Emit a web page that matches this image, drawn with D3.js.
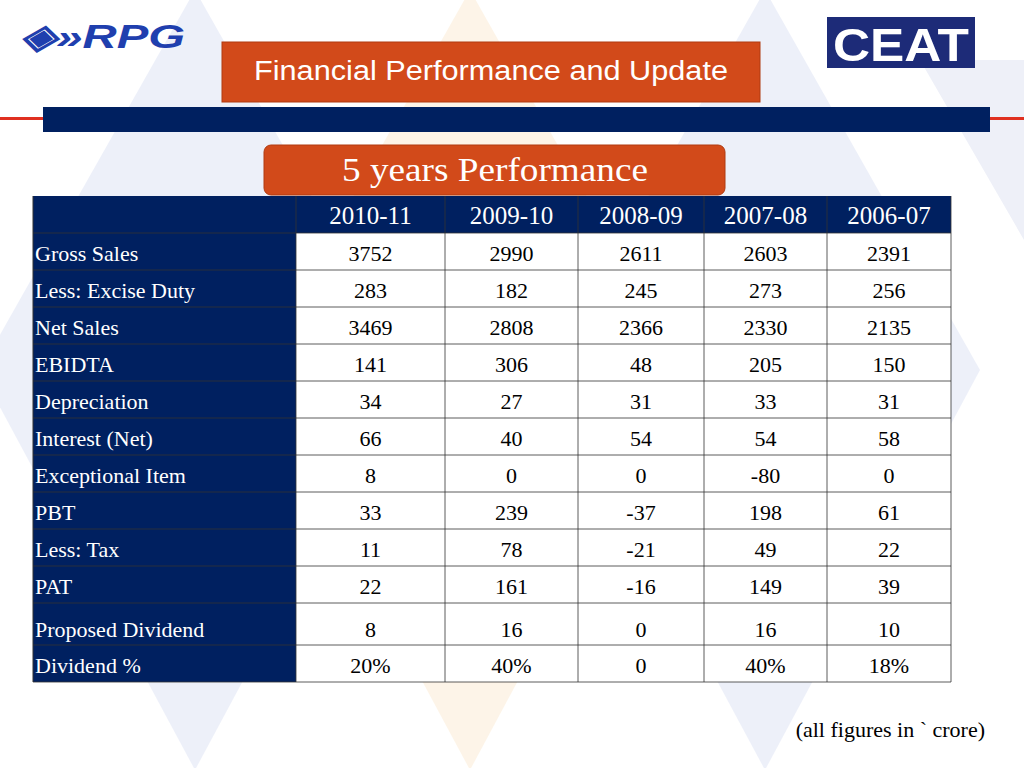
<!DOCTYPE html>
<html><head><meta charset="utf-8">
<script src="https://cdn.jsdelivr.net/npm/d3@7"></script>
<style>body{margin:0;background:#fff}svg{display:block}</style>
</head><body>
<script>
const years = ["2010-11","2009-10","2008-09","2007-08","2006-07"];
const rowLabels = ["Gross Sales","Less: Excise Duty","Net Sales","EBIDTA","Depreciation","Interest (Net)","Exceptional Item","PBT","Less: Tax","PAT","Proposed Dividend","Dividend %"];
const grossSales = ["3752","2990","2611","2603","2391"];
const exciseDuty = ["283","182","245","273","256"];
const netSales = ["3469","2808","2366","2330","2135"];
const ebidta = ["141","306","48","205","150"];
const depreciation = ["34","27","31","33","31"];
const interest = ["66","40","54","54","58"];
const exceptional = ["8","0","0","-80","0"];
const pbt = ["33","239","-37","198","61"];
const tax = ["11","78","-21","49","22"];
const pat = ["22","161","-16","149","39"];
const dividend = ["8","16","0","16","10"];
const dividendPct = ["20%","40%","0","40%","18%"];
const rows = [grossSales,exciseDuty,netSales,ebidta,depreciation,interest,exceptional,pbt,tax,pat,dividend,dividendPct];

const W=1024,H=768;
const svg=d3.select("body").append("svg").attr("width",W).attr("height",H);
const navy="#002060", orange="#d24a1a";

const bg=[{cx:195,c:"#e9ecf7"},{cx:470,c:"#fcf1e2"},{cx:765,c:"#e9ecf7"}];
bg.forEach(d=>{
  svg.append("polygon").attr("points",`${d.cx},-10 ${d.cx+215},370 ${d.cx},770 ${d.cx-215},370`).attr("fill",d.c).attr("opacity",0.8);
});
svg.append("polygon").attr("points",`1024,240 920,60 1024,60`).attr("fill","#eef0f8");

svg.append("rect").attr("x",0).attr("y",117).attr("width",W).attr("height",3).attr("fill","#e03020");
svg.append("rect").attr("x",43).attr("y",107).attr("width",947).attr("height",25).attr("fill",navy);

svg.append("text").attr("x",20).attr("y",48).attr("font-family","Liberation Sans").attr("font-weight","bold").attr("font-style","italic").attr("font-size",34).attr("fill","#1f3fae").attr("textLength",165).attr("lengthAdjust","spacingAndGlyphs").text("◈»RPG");
svg.append("rect").attr("x",827).attr("y",17).attr("width",148).attr("height",51).attr("fill","#1d2b78");
svg.append("text").attr("x",901).attr("y",61).attr("text-anchor","middle").attr("font-family","Liberation Sans").attr("font-weight","bold").attr("font-size",46).attr("fill","#fff").attr("textLength",136).attr("lengthAdjust","spacingAndGlyphs").text("CEAT");

svg.append("rect").attr("x",222).attr("y",42).attr("width",538).attr("height",60).attr("fill",orange).attr("stroke","#b03a10");
svg.append("text").attr("x",491).attr("y",80).attr("text-anchor","middle").attr("font-family","Liberation Sans Narrow, Liberation Sans").attr("font-size",27).attr("fill","#fff").attr("textLength",474).attr("lengthAdjust","spacingAndGlyphs").text("Financial Performance and Update");

svg.append("rect").attr("x",264).attr("y",145).attr("width",461).attr("height",50).attr("rx",7).attr("fill",orange).attr("stroke","#b03a10");
svg.append("text").attr("x",495).attr("y",181).attr("text-anchor","middle").attr("font-family","Liberation Serif").attr("font-size",33).attr("fill","#fff").attr("textLength",306).attr("lengthAdjust","spacingAndGlyphs").text("5 years Performance");

const colEdges=[296,445,578,704,827,951];
const x0=33;
const heights=[37,37,37,37,37,37,37,37,37,37,37,42,37];
let ys=[196]; heights.forEach(h=>ys.push(ys[ys.length-1]+h));
svg.append("rect").attr("x",x0).attr("y",ys[0]).attr("width",951-x0).attr("height",heights[0]).attr("fill",navy);
svg.append("rect").attr("x",x0).attr("y",ys[1]).attr("width",296-x0).attr("height",ys[13]-ys[1]).attr("fill",navy);
svg.append("rect").attr("x",296).attr("y",ys[1]).attr("width",655).attr("height",ys[13]-ys[1]).attr("fill","#fff");
const font="Liberation Serif", fs=22;
years.forEach((y,j)=>{
  svg.append("text").attr("x",(colEdges[j]+colEdges[j+1])/2).attr("y",ys[0]+28).attr("text-anchor","middle").attr("font-family",font).attr("font-size",25).attr("fill","#fff").text(y);
});
rowLabels.forEach((l,i)=>{
  const cy=ys[i+1]+heights[i+1]/2+(i===10?13:9);
  svg.append("text").attr("x",35).attr("y",cy).attr("font-family",font).attr("font-size",fs).attr("fill","#fff").text(l);
  rows[i].forEach((v,j)=>{
    svg.append("text").attr("x",(colEdges[j]+colEdges[j+1])/2).attr("y",cy).attr("text-anchor","middle").attr("font-family",font).attr("font-size",fs).attr("fill","#000").text(v);
  });
});
for(let i=1;i<=13;i++) svg.append("line").attr("x1",x0).attr("x2",951).attr("y1",ys[i]).attr("y2",ys[i]).attr("stroke","#333").attr("stroke-width",0.8);
colEdges.forEach(c=>svg.append("line").attr("x1",c).attr("x2",c).attr("y1",ys[0]).attr("y2",ys[13]).attr("stroke","#333").attr("stroke-width",0.8));
svg.append("line").attr("x1",x0).attr("x2",x0).attr("y1",ys[0]).attr("y2",ys[13]).attr("stroke","#333");

svg.append("text").attr("x",985).attr("y",737).attr("text-anchor","end").attr("font-family",font).attr("font-size",22).attr("fill","#000").text("(all figures in ` crore)");
</script>
</body></html>
